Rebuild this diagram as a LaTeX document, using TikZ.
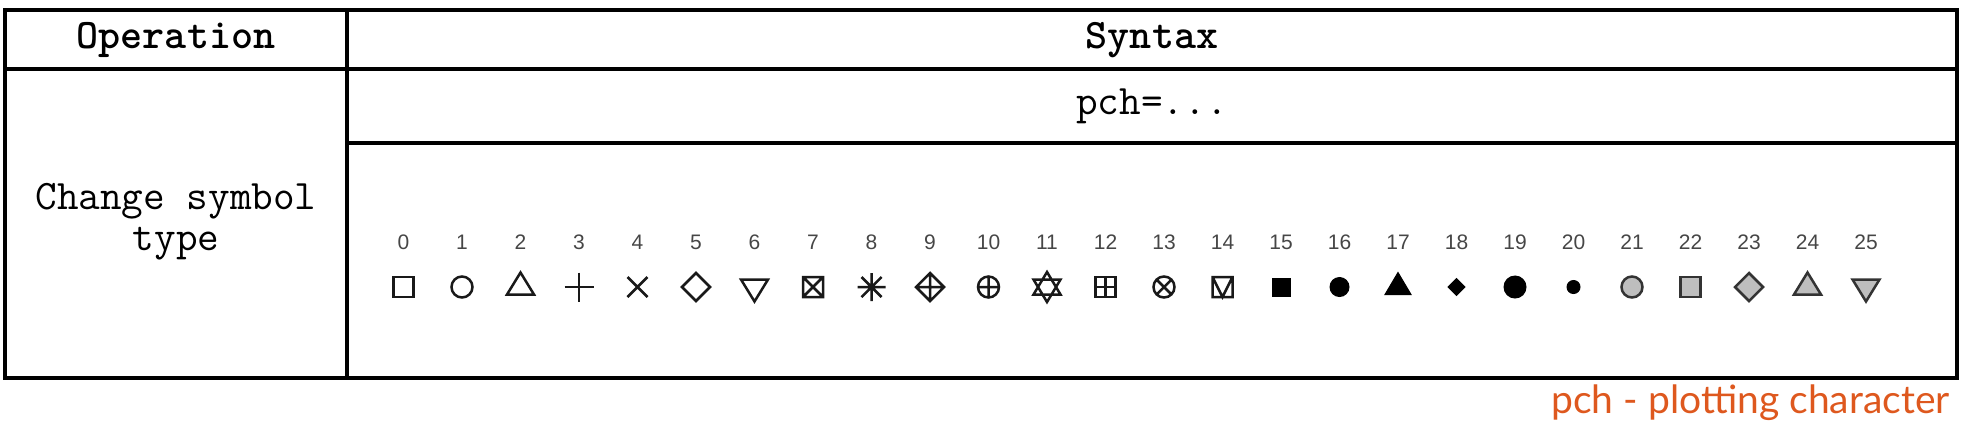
\documentclass[tikz,border=0pt]{standalone}
\usepackage{fontspec}
\setmainfont{Liberation Sans}
\newfontfamily\notefont{Lato}
\definecolor{pchorange}{RGB}{222,88,30}
\definecolor{pchgray}{RGB}{190,190,190}
\definecolor{numgray}{RGB}{70,70,70}
\begin{document}
\begin{tikzpicture}[x=0.5pt,y=-0.5pt]
\useasboundingbox (0,0) rectangle (1966,430);
\tikzset{
  grid/.style={line width=1.6pt, draw=black},
  hdr/.style={inner sep=0pt, font=\ttfamily\bfseries\fontsize{21}{22}\selectfont},
  cell/.style={inner sep=0pt, font=\ttfamily\fontsize{21}{20.5}\selectfont},
  num/.style={inner sep=0pt, text=numgray, font=\fontsize{10.5}{12}\selectfont},
  sym/.style={line width=1.25pt, draw=black!90},
  symfill/.style={fill=black, draw=black, line width=0.5pt},
  symgr/.style={fill=pchgray, draw=black!80, line width=1.25pt},
  note/.style={inner sep=0pt, text=pchorange, font=\notefont\fontsize{19.5}{22}\selectfont}
}
% table
\draw[grid] (5,10) rectangle (1957,378);
\draw[grid] (347,10) -- (347,378);
\draw[grid] (5,69) -- (1957,69);
\draw[grid] (347,143) -- (1957,143);
% texts
\node[hdr] (op) at (176,40) {Operation};
\node[hdr] (syn) at (1152,40) {Syntax};
\node[cell] (pch) at (1152,106) {pch=...};
\node[cell, align=center] (chg) at (176,222) {Change symbol\\type};
\foreach \i in {0,...,25} {
  \node[num] (n\i) at ({403.5+58.5*\i},242) {\i};
}
% symbols
% 0 square
\begin{scope}[shift={(403.5,287)}] \draw[sym] (-10,-10) rectangle (10,10); \end{scope}
% 1 circle
\begin{scope}[shift={(462,287)}] \draw[sym] (0,0) circle[radius=10.5]; \end{scope}
% 2 triangle up
\begin{scope}[shift={(520.5,287)}] \draw[sym] (0,-14.5) -- (13.5,7.5) -- (-13.5,7.5) -- cycle; \end{scope}
% 3 plus
\begin{scope}[shift={(579,287)}] \draw[sym] (-14.5,0) -- (14.5,0) (0,-14.5) -- (0,14.5); \end{scope}
% 4 cross
\begin{scope}[shift={(637.5,287)}] \draw[sym] (-10,-10) -- (10,10) (-10,10) -- (10,-10); \end{scope}
% 5 diamond
\begin{scope}[shift={(696,287)}] \draw[sym] (0,-14) -- (14,0) -- (0,14) -- (-14,0) -- cycle; \end{scope}
% 6 triangle down
\begin{scope}[shift={(754.5,287)}] \draw[sym] (0,14.5) -- (13.5,-7.5) -- (-13.5,-7.5) -- cycle; \end{scope}
% 7 square + cross
\begin{scope}[shift={(813,287)}] \draw[sym] (-10,-10) rectangle (10,10) (-10,-10) -- (10,10) (-10,10) -- (10,-10); \end{scope}
% 8 asterisk
\begin{scope}[shift={(871.5,287)}] \draw[sym] (-14,0) -- (14,0) (0,-14) -- (0,14) (-10,-10) -- (10,10) (-10,10) -- (10,-10); \end{scope}
% 9 diamond + plus
\begin{scope}[shift={(930,287)}] \draw[sym] (0,-14) -- (14,0) -- (0,14) -- (-14,0) -- cycle (-14,0) -- (14,0) (0,-14) -- (0,14); \end{scope}
% 10 circle + plus
\begin{scope}[shift={(988.5,287)}] \draw[sym] (0,0) circle[radius=10.5] (-10.5,0) -- (10.5,0) (0,-10.5) -- (0,10.5); \end{scope}
% 11 star of David
\begin{scope}[shift={(1047,287)}] \draw[sym] (0,-15) -- (13.5,7.5) -- (-13.5,7.5) -- cycle (0,15) -- (13.5,-7.5) -- (-13.5,-7.5) -- cycle; \end{scope}
% 12 square + plus
\begin{scope}[shift={(1105.5,287)}] \draw[sym] (-10,-10) rectangle (10,10) (-10,0) -- (10,0) (0,-10) -- (0,10); \end{scope}
% 13 circle + cross
\begin{scope}[shift={(1164,287)}] \draw[sym] (0,0) circle[radius=10.5] (-8,-8) -- (8,8) (-8,8) -- (8,-8); \end{scope}
% 14 square + V
\begin{scope}[shift={(1222.5,287)}] \draw[sym] (-10,-10) rectangle (10,10) (-10,-10) -- (0,10) -- (10,-10); \end{scope}
% 15 filled square
\begin{scope}[shift={(1281,287)}] \fill[black] (-9.5,-9.5) rectangle (9.5,9.5); \end{scope}
% 16 filled circle
\begin{scope}[shift={(1339.5,287)}] \draw[symfill] (0,0) circle[radius=9.5]; \end{scope}
% 17 filled triangle
\begin{scope}[shift={(1398,287)}] \draw[symfill] (0,-14.5) -- (13,7.5) -- (-13,7.5) -- cycle; \end{scope}
% 18 small filled diamond
\begin{scope}[shift={(1456.5,287)}] \draw[symfill] (0,-8.5) -- (8.5,0) -- (0,8.5) -- (-8.5,0) -- cycle; \end{scope}
% 19 big filled circle
\begin{scope}[shift={(1515,287)}] \draw[symfill] (0,0) circle[radius=11]; \end{scope}
% 20 small filled circle
\begin{scope}[shift={(1573.5,287)}] \draw[symfill] (0,0) circle[radius=6.5]; \end{scope}
% 21 gray circle
\begin{scope}[shift={(1632,287)}] \draw[symgr] (0,0) circle[radius=10.5]; \end{scope}
% 22 gray square
\begin{scope}[shift={(1690.5,287)}] \draw[symgr] (-10,-10) rectangle (10,10); \end{scope}
% 23 gray diamond
\begin{scope}[shift={(1749,287)}] \draw[symgr] (0,-14) -- (14,0) -- (0,14) -- (-14,0) -- cycle; \end{scope}
% 24 gray triangle up
\begin{scope}[shift={(1807.5,287)}] \draw[symgr] (0,-14.5) -- (13.5,7.5) -- (-13.5,7.5) -- cycle; \end{scope}
% 25 gray triangle down
\begin{scope}[shift={(1866,287)}] \draw[symgr] (0,14.5) -- (13.5,-7.5) -- (-13.5,-7.5) -- cycle; \end{scope}
% note
\node[note, anchor=base east] (note) at (1950,413) {pch - plotting character};
\end{tikzpicture}
\end{document}
